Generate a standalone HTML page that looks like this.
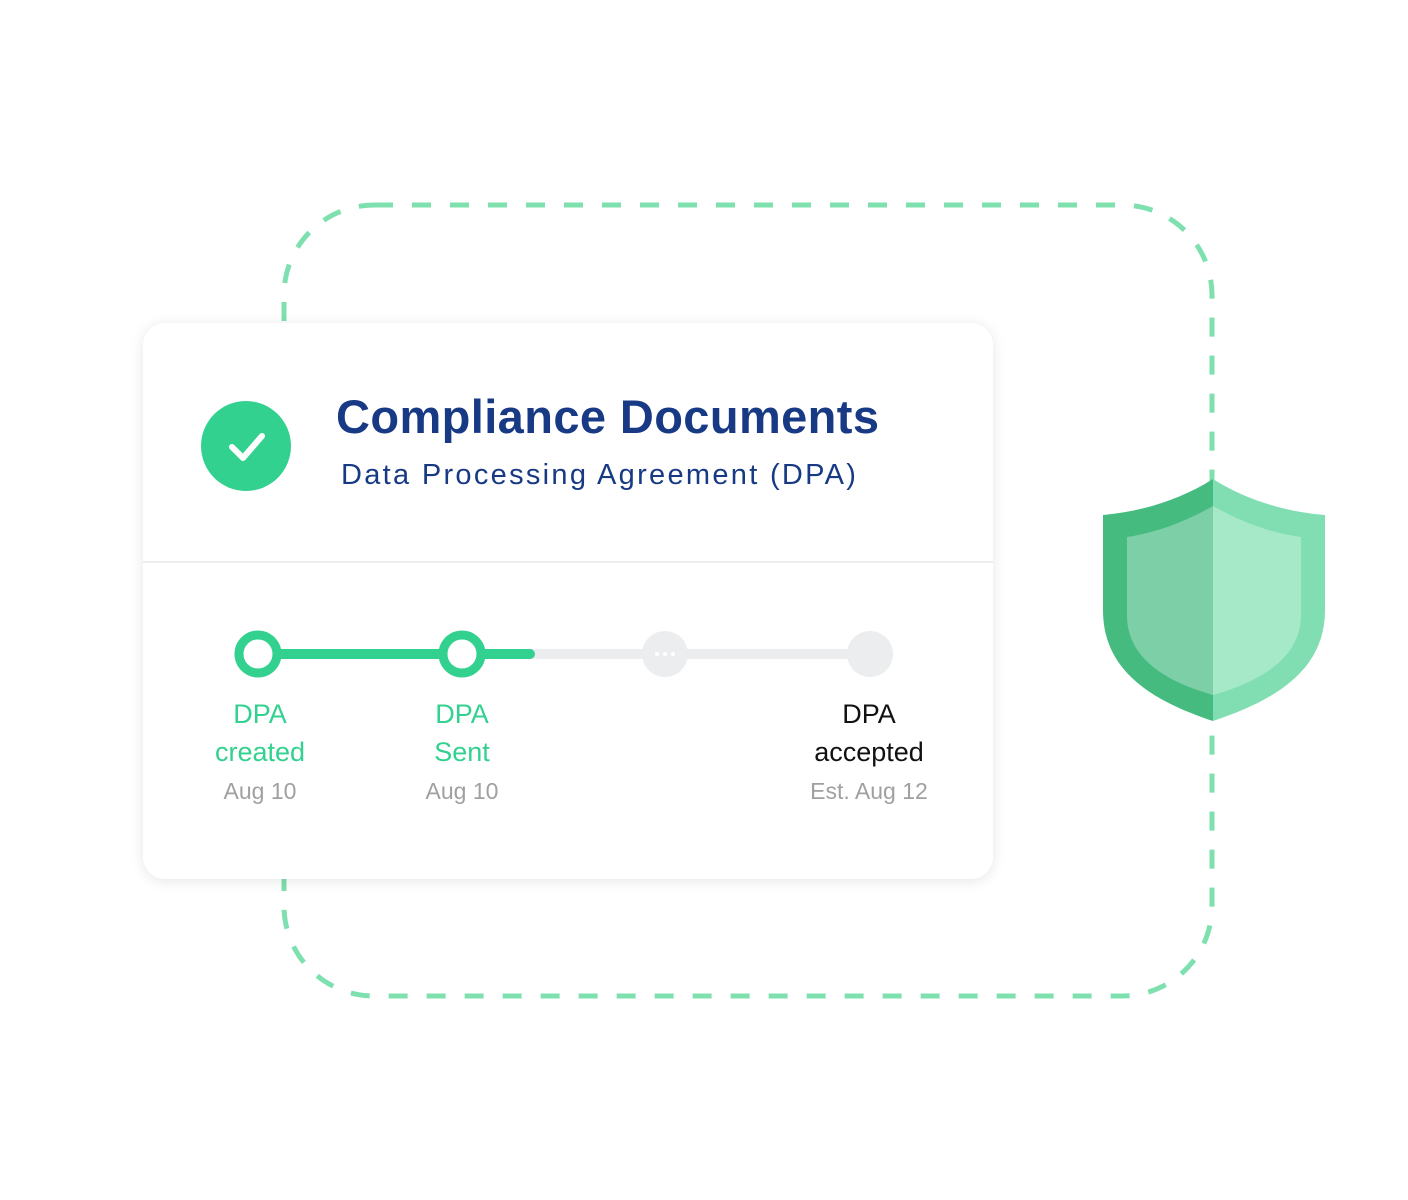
<!DOCTYPE html>
<html><head><meta charset="utf-8"><style>
html,body{margin:0;padding:0;background:#fff;}
body{width:1408px;height:1200px;position:relative;overflow:hidden;font-family:"Liberation Sans",sans-serif;}
svg.bg{position:absolute;left:0;top:0;}
.card{position:absolute;left:143px;top:323px;width:850px;height:556px;background:#fff;border-radius:22px;box-shadow:0 2px 14px rgba(0,0,0,0.10);}
.divider{position:absolute;left:0;right:0;top:238px;height:2px;background:#eeeeee;}
.t{position:absolute;white-space:nowrap;}
.lbl{position:absolute;width:200px;text-align:center;font-size:27px;line-height:38px;}
.date{position:absolute;width:200px;text-align:center;font-size:23px;color:#a0a0a0;}
</style></head><body>
<svg class="bg" width="1408" height="1200">
<rect x="284" y="205" width="928" height="791" rx="90" ry="90" fill="none" stroke="#7ee0ae" stroke-width="5" stroke-dasharray="19 19"/>
</svg>
<div class="card">
  <svg style="position:absolute;left:0;top:0" width="850" height="556">
    <circle cx="103" cy="123" r="45" fill="#33d18f"/>
    <polyline points="89,124 100,135 119,113" fill="none" stroke="#fff" stroke-width="6" stroke-linecap="round" stroke-linejoin="round"/>
    <line x1="115" y1="331" x2="727" y2="331" stroke="#ebedef" stroke-width="10" stroke-linecap="round"/>
    <line x1="115" y1="331" x2="387" y2="331" stroke="#33d18f" stroke-width="10" stroke-linecap="round"/>
    <circle cx="115" cy="331" r="19" fill="#fff" stroke="#33d18f" stroke-width="9"/>
    <circle cx="319" cy="331" r="19" fill="#fff" stroke="#33d18f" stroke-width="9"/>
    <circle cx="522" cy="331" r="23" fill="#ebedef"/>
    <circle cx="514" cy="331" r="2" fill="#fff"/><circle cx="522" cy="331" r="2" fill="#fff"/><circle cx="530" cy="331" r="2" fill="#fff"/>
    <circle cx="727" cy="331" r="23" fill="#ebedef"/>
  </svg>
  <div class="t" style="left:193px;top:66px;font-size:47px;font-weight:bold;color:#183a85;letter-spacing:0.4px;">Compliance Documents</div>
  <div class="t" style="left:198px;top:136px;font-size:29px;color:#183a85;letter-spacing:2.3px;">Data Processing Agreement (DPA)</div>
  <div class="divider"></div>
  <div class="lbl" style="left:17px;top:372px;color:#33d18f;">DPA<br>created</div>
  <div class="lbl" style="left:219px;top:372px;color:#33d18f;">DPA<br>Sent</div>
  <div class="lbl" style="left:626px;top:372px;color:#111;">DPA<br>accepted</div>
  <div class="date" style="left:17px;top:455px;">Aug 10</div>
  <div class="date" style="left:219px;top:455px;">Aug 10</div>
  <div class="date" style="left:626px;top:455px;">Est. Aug 12</div>
</div>
<svg class="bg" width="1408" height="1200">
  <path d="M1213 479 C1180 500 1140 512 1103 515 L1103 610 C1103 670 1150 700 1213 721 Z" fill="#45bb80"/>
  <path d="M1213 479 C1246 500 1286 512 1325 515 L1325 610 C1325 670 1276 700 1213 721 Z" fill="#80deb2"/>
  <path d="M1213 506 C1185 522 1155 533 1127 537 L1127 615 C1127 655 1160 680 1213 695 Z" fill="#7dcfa8"/>
  <path d="M1213 506 C1241 522 1271 533 1301 537 L1301 615 C1301 655 1266 680 1213 695 Z" fill="#a5e9c9"/>
</svg>
</body></html>
